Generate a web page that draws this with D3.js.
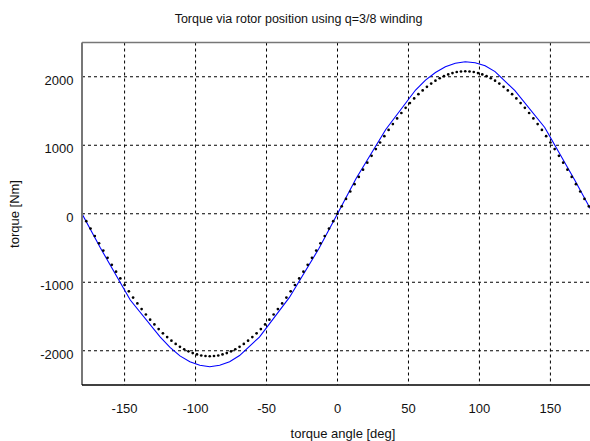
<!DOCTYPE html>
<html>
<head>
<meta charset="utf-8">
<title>Torque via rotor position</title>
<style>
  body { margin: 0; background: #fff; }
  svg { display: block; font-family: 'Liberation Sans', Arial, Helvetica, sans-serif; }
  .grid line { stroke: #000; stroke-width: 1; stroke-dasharray: 3,3; }
  .tick-label { font-size: 13px; fill: #111; }
  .title { font-size: 12.5px; fill: #111; text-anchor: middle; }
  .axis-label { font-size: 13px; fill: #111; text-anchor: middle; }
</style>
</head>
<body>
<script src="https://d3js.org/d3.v7.min.js"></script>
<script>
  var width = 590,
      height = 441;

  // axis ticks
  var xTicks = [-150, -100, -50, 0, 50, 100, 150];
  var yTicks = [-2000, -1000, 0, 1000, 2000];

  // blue solid curve
  var blueAngle = [-180, -167, -146, -125, -118, -111, -104, -97, -90, -83, -76, -69, -55, -34, -13, 0,
                   13, 34, 55, 62, 69, 76, 83, 90, 97, 104, 111, 125, 146, 167, 180];
  var blueTorque = [0, -500, -1260, -1796, -1950, -2075, -2160, -2212, -2234, -2212, -2160, -2070, -1800, -1225, -505, 0,
                    510, 1230, 1806, 1950, 2062, 2146, 2198, 2219, 2205, 2160, 2075, 1796, 1260, 497, 0];

  // dotted curve, one dot every 3 deg from -180 to 180
  var dotStep = 3;
  var dotTorque = [
    0, -109, -217, -325, -432, -538, -643, -745, -846, -944, -1040, -1133, -1223, -1309, -1392, -1471,
    -1546, -1616, -1683, -1745, -1801, -1853, -1900, -1942, -1978, -2009, -2034, -2054, -2069, -2077, -2080,
    -2077, -2069, -2054, -2034, -2009, -1978, -1942, -1900, -1853, -1801, -1745, -1683, -1616, -1546, -1471,
    -1392, -1309, -1223, -1133, -1040, -944, -846, -745, -643, -538, -432, -325, -217, -109,
    0, 109, 217, 325, 432, 538, 643, 745, 846, 944, 1040, 1133, 1223, 1309, 1392, 1471,
    1546, 1616, 1683, 1745, 1801, 1853, 1900, 1942, 1978, 2009, 2034, 2054, 2069, 2077, 2080,
    2077, 2069, 2054, 2034, 2009, 1978, 1942, 1900, 1853, 1801, 1745, 1683, 1616, 1546, 1471,
    1392, 1309, 1223, 1133, 1040, 944, 846, 745, 643, 538, 432, 325, 217, 109, 0
  ];

  var plotLeft = 82, plotRight = 593, plotTop = 42.5, plotBottom = 385;

  var x = d3.scaleLinear().domain([-180, 180]).range([plotLeft, plotRight]);
  var y = d3.scaleLinear().domain([-2500, 2500]).range([plotBottom, plotTop]);

  var svg = d3.select("body").append("svg")
      .attr("width", width)
      .attr("height", height);

  svg.append("defs").append("clipPath").attr("id", "plot")
    .append("rect")
      .attr("x", plotLeft).attr("y", plotTop)
      .attr("width", plotRight - plotLeft).attr("height", plotBottom - plotTop);

  // grid
  var grid = svg.append("g").attr("class", "grid");
  grid.selectAll(".vx").data(xTicks).enter().append("line")
      .attr("x1", function(d) { return x(d); })
      .attr("x2", function(d) { return x(d); })
      .attr("y1", plotTop).attr("y2", plotBottom);
  grid.selectAll(".hy").data(yTicks).enter().append("line")
      .attr("x1", plotLeft).attr("x2", plotRight)
      .attr("y1", function(d) { return y(d); })
      .attr("y2", function(d) { return y(d); });

  // curves
  var plot = svg.append("g").attr("clip-path", "url(#plot)");

  var line = d3.line()
      .x(function(d) { return x(d[0]); })
      .y(function(d) { return y(d[1]); });

  plot.append("path")
      .datum(d3.zip(blueAngle, blueTorque))
      .attr("d", line)
      .attr("fill", "none")
      .attr("stroke", "#0000ff")
      .attr("stroke-width", 1.1);

  plot.selectAll(".dot")
      .data(dotTorque).enter()
    .append("circle")
      .attr("cx", function(d, i) { return x(-180 + i * dotStep); })
      .attr("cy", function(d) { return y(d); })
      .attr("r", 1.35)
      .attr("fill", "#000");

  // frame
  svg.append("line")
      .attr("x1", plotLeft).attr("x2", plotRight)
      .attr("y1", plotTop).attr("y2", plotTop)
      .attr("stroke", "#777").attr("stroke-width", 1.5);
  svg.append("line")
      .attr("x1", plotLeft).attr("x2", plotLeft)
      .attr("y1", plotTop).attr("y2", plotBottom)
      .attr("stroke", "#777").attr("stroke-width", 2);
  svg.append("line")
      .attr("x1", plotLeft).attr("x2", plotRight)
      .attr("y1", plotBottom).attr("y2", plotBottom)
      .attr("stroke", "#000").attr("stroke-width", 1.5);

  // tick labels
  svg.append("g").selectAll("text")
      .data(xTicks).enter().append("text")
      .attr("class", "tick-label")
      .attr("x", function(d) { return x(d); })
      .attr("y", 412.5)
      .attr("text-anchor", "middle")
      .text(function(d) { return d; });

  svg.append("g").selectAll("text")
      .data(yTicks).enter().append("text")
      .attr("class", "tick-label")
      .attr("x", 73.5)
      .attr("y", function(d) { return y(d) + 8; })
      .attr("text-anchor", "end")
      .text(function(d) { return d; });

  // titles
  svg.append("text")
      .attr("class", "title")
      .attr("x", 298.5).attr("y", 23.3)
      .text("Torque via rotor position using q=3/8 winding");

  svg.append("text")
      .attr("class", "axis-label")
      .attr("x", 343).attr("y", 438)
      .text("torque angle [deg]");

  svg.append("text")
      .attr("class", "axis-label")
      .attr("transform", "translate(19,214) rotate(-90)")
      .text("torque [Nm]");
</script>
</body>
</html>
